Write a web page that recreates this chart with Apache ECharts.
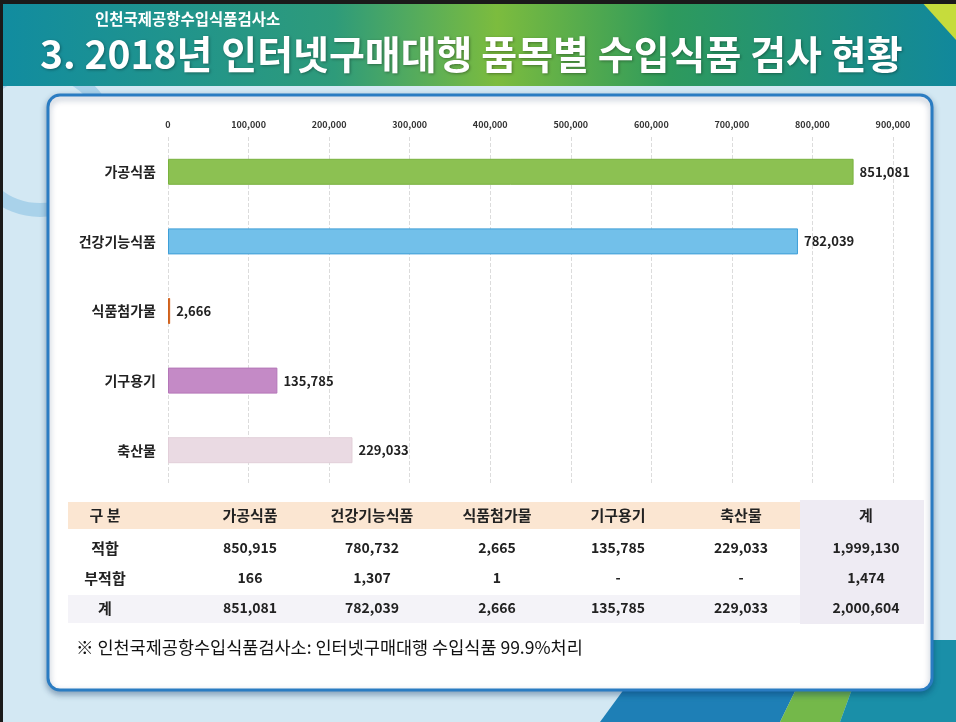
<!DOCTYPE html>
<html>
<head>
<meta charset="utf-8">
<script src="https://cdn.jsdelivr.net/npm/echarts@6/dist/echarts.min.js"></script>
<style>
  html, body { margin: 0; padding: 0; background: #cfe5f1; }
  #main { width: 956px; height: 722px; }
</style>
</head>
<body>
<div id="main"></div>
<script>
// 품목 (차트 순서: 위 -> 아래)
const categories = ['가공식품', '건강기능식품', '식품첨가물', '기구용기', '축산물'];
const totals = [851081, 782039, 2666, 135785, 229033];
const barColors = ['#8cc152', '#72c0ea', '#e0742a', '#c48ac6', '#eadae3'];
const barBorders = ['#79b23f', '#3f9fd8', '#d0601a', '#b476b8', '#e2cfd9'];

// 표
const tableHead = ['구 분', '가공식품', '건강기능식품', '식품첨가물', '기구용기', '축산물', '계'];
const rowNames = ['적합', '부적합', '계'];
const passRow = ['850,915', '780,732', '2,665', '135,785', '229,033', '1,999,130'];
const failRow = ['166', '1,307', '1', '-', '-', '1,474'];
const sumRow = ['851,081', '782,039', '2,666', '135,785', '229,033', '2,000,604'];

const titleText = '3. 2018년 인터넷구매대행 품목별 수입식품 검사 현황';
const subTitle = '인천국제공항수입식품검사소';
const footNote = '※ 인천국제공항수입식품검사소: 인터넷구매대행 수입식품 99.9%처리';

const FONT = '"Noto Sans CJK KR", "Noto Sans", sans-serif';
const chart = echarts.init(document.getElementById('main'));

// 표 그리기
const colX = [105, 250, 372, 497, 618, 741, 866];
const rowY = [515, 548, 578, 608];
const tableGraphics = [
  { type: 'rect', shape: { x: 68, y: 502, width: 732, height: 27 }, style: { fill: '#fbe6d2' }, z: 1 },
  { type: 'rect', shape: { x: 800, y: 500, width: 124, height: 124 }, style: { fill: '#eeebf3' }, z: 1 },
  { type: 'rect', shape: { x: 68, y: 595, width: 732, height: 28 }, style: { fill: '#f4f3f8' }, z: 1 }
];
tableHead.forEach((t, i) => {
  tableGraphics.push({
    type: 'text', x: colX[i], y: rowY[0], z: 5,
    style: { text: t, font: 'bold 15px ' + FONT, fill: '#222', align: 'center', verticalAlign: 'middle' }
  });
});
[passRow, failRow, sumRow].forEach((row, r) => {
  tableGraphics.push({
    type: 'text', x: colX[0], y: rowY[r + 1], z: 5,
    style: { text: rowNames[r], font: 'bold 15px ' + FONT, fill: '#222', align: 'center', verticalAlign: 'middle' }
  });
  row.forEach((v, i) => {
    tableGraphics.push({
      type: 'text', x: colX[i + 1], y: rowY[r + 1], z: 5,
      style: { text: v, font: 'bold 14px ' + FONT, fill: '#222', align: 'center', verticalAlign: 'middle' }
    });
  });
});

const option = {
  backgroundColor: '#cfe5f1',
  textStyle: { fontFamily: FONT },
  animation: false,
  grid: { left: 168, right: 63, top: 137, height: 348, containLabel: false },
  xAxis: {
    type: 'value',
    position: 'top',
    min: 0,
    max: 900000,
    interval: 100000,
    axisLine: { show: false },
    axisTick: { show: false },
    axisLabel: {
      fontSize: 9,
      fontWeight: 'bold',
      color: '#333',
      margin: 8,
      formatter: v => v.toLocaleString('en-US')
    },
    splitLine: { show: true, lineStyle: { color: '#dcdcdc', type: 'dashed', width: 1 } }
  },
  yAxis: {
    type: 'category',
    inverse: true,
    data: categories,
    axisLine: { show: false },
    axisTick: { show: false },
    axisLabel: { fontSize: 14, fontWeight: 'bold', color: '#222', margin: 12 }
  },
  series: [{
    type: 'bar',
    barWidth: 26,
    data: totals.map((v, i) => ({
      value: v,
      itemStyle: { color: barColors[i], borderColor: barBorders[i], borderWidth: 1 }
    })),
    label: {
      show: true,
      position: 'right',
      distance: 6,
      fontSize: 13,
      fontWeight: 'bold',
      color: '#222',
      formatter: p => p.value.toLocaleString('en-US')
    },
    z: 3
  }],
  graphic: [
    // 배경 장식
    { type: 'rect', shape: { x: 0, y: 0, width: 956, height: 722 }, style: { fill: '#d3e8f3' }, z: -20 },
    { type: 'circle', shape: { cx: 40, cy: 140, r: 70 }, style: { fill: 'none', stroke: '#a9d2ea', lineWidth: 14 }, z: -19 },
    { type: 'polygon', shape: { points: [[600, 722], [660, 640], [820, 640], [780, 722]] }, style: { fill: '#1e7fb6' }, z: -19 },
    { type: 'polygon', shape: { points: [[780, 722], [820, 640], [870, 640], [840, 722]] }, style: { fill: '#74b84a' }, z: -19 },
    { type: 'polygon', shape: { points: [[840, 722], [870, 640], [956, 640], [956, 722]] }, style: { fill: '#1a8fa8' }, z: -19 },
    // 헤더
    {
      type: 'rect', shape: { x: 0, y: 0, width: 956, height: 86 }, z: -10,
      style: {
        fill: new echarts.graphic.LinearGradient(0, 0, 1, 0, [
          { offset: 0, color: '#118ca0' },
          { offset: 0.35, color: '#2e9b7a' },
          { offset: 0.52, color: '#7cbc3e' },
          { offset: 0.7, color: '#2e9a5c' },
          { offset: 1, color: '#11889c' }
        ])
      }
    },
    { type: 'polygon', shape: { points: [[920, 0], [956, 0], [956, 40]] }, style: { fill: '#c6dc3c' }, z: -9 },
    { type: 'rect', shape: { x: 0, y: 0, width: 956, height: 4 }, style: { fill: '#1a1a1a' }, z: -8 },
    { type: 'rect', shape: { x: 0, y: 0, width: 3, height: 722 }, style: { fill: '#1a1a1a' }, z: 50 },
    {
      type: 'text', x: 95, y: 19, z: 10,
      style: { text: subTitle, font: 'bold 15.5px ' + FONT, fill: '#ffffff', verticalAlign: 'middle' }
    },
    {
      type: 'text', x: 40, y: 54, z: 10,
      style: {
        text: titleText, font: 'bold 39px ' + FONT, fill: '#ffffff', verticalAlign: 'middle',
        textShadowColor: 'rgba(0,0,0,0.35)', textShadowBlur: 3, textShadowOffsetX: 1, textShadowOffsetY: 1
      }
    },
    // 흰 패널
    {
      type: 'rect', shape: { x: 48, y: 95, width: 884, height: 595, r: 12 }, z: -5,
      style: { fill: '#ffffff', stroke: '#2a7cc2', lineWidth: 3, shadowColor: 'rgba(0,40,90,0.35)', shadowBlur: 6, shadowOffsetY: 3 }
    },
    // 주석
    {
      type: 'text', x: 76, y: 647, z: 10,
      style: { text: footNote, font: '17.5px ' + FONT, fill: '#111', verticalAlign: 'middle' }
    }
  ].concat(tableGraphics)
};

chart.setOption(option);
</script>
</body>
</html>
